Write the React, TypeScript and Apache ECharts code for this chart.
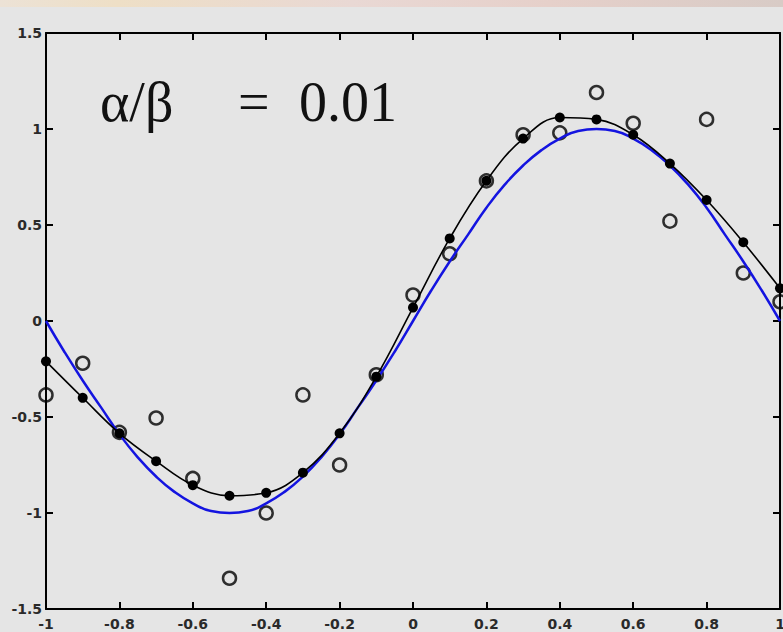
import React, { useEffect, useRef } from "react";
import * as echarts from "echarts";

// sample locations
const xValues = [-1, -0.9, -0.8, -0.7, -0.6, -0.5, -0.4, -0.3, -0.2, -0.1, 0, 0.1, 0.2, 0.3, 0.4, 0.5, 0.6, 0.7, 0.8, 0.9, 1];
// noisy observations (open circles)
const observed = [-0.385, -0.22, -0.58, -0.505, -0.82, -1.34, -1.0, -0.385, -0.75, -0.28, 0.135, 0.35, 0.73, 0.97, 0.98, 1.19, 1.03, 0.52, 1.05, 0.25, 0.1];
// fitted curve (filled dots)
const fitted = [-0.21, -0.4, -0.585, -0.73, -0.855, -0.91, -0.895, -0.79, -0.585, -0.29, 0.07, 0.43, 0.73, 0.95, 1.06, 1.05, 0.97, 0.82, 0.63, 0.41, 0.17];
// true underlying curve (blue), read at 0.05 steps
const trueX = [-1, -0.95, -0.9, -0.85, -0.8, -0.75, -0.7, -0.65, -0.6, -0.55, -0.5, -0.45, -0.4, -0.35, -0.3, -0.25, -0.2, -0.15, -0.1, -0.05, 0, 0.05, 0.1, 0.15, 0.2, 0.25, 0.3, 0.35, 0.4, 0.45, 0.5, 0.55, 0.6, 0.65, 0.7, 0.75, 0.8, 0.85, 0.9, 0.95, 1];
const trueY = [0, -0.16, -0.31, -0.45, -0.59, -0.71, -0.81, -0.89, -0.95, -0.99, -1, -0.99, -0.95, -0.89, -0.81, -0.71, -0.59, -0.45, -0.31, -0.16, 0, 0.16, 0.31, 0.45, 0.59, 0.71, 0.81, 0.89, 0.95, 0.99, 1, 0.99, 0.95, 0.89, 0.81, 0.71, 0.59, 0.45, 0.31, 0.16, 0];

const xTickLabels = ["-1", "-0.8", "-0.6", "-0.4", "-0.2", "0", "0.2", "0.4", "0.6", "0.8", "1"];
const yTickLabels = ["-1.5", "-1", "-0.5", "0", "0.5", "1", "1.5"];
const annotation = ["α/β", "=", "0.01"];

const BG = "#e5e5e5";

export default function App() {
  const ref = useRef<HTMLDivElement>(null);

  useEffect(() => {
    document.body.style.margin = "0";
    document.body.style.background = BG;
    if (!ref.current) return;
    const chart = echarts.init(ref.current, undefined, { renderer: "svg" });

    const xLabel = (v: number) => xTickLabels[Math.round((v + 1) / 0.2)] ?? "";
    const yLabel = (v: number) => yTickLabels[Math.round((v + 1.5) / 0.5)] ?? "";

    const labelStyle = {
      fontFamily: "DejaVu Sans",
      fontSize: 14,
      fontWeight: "bold" as const,
      color: "#2a2a2a",
    };
    const lineStyle = { color: "#000", width: 2 };
    const tick = { show: true, inside: true, length: 7, lineStyle: { color: "#000", width: 2 } };

    const xBase = {
      type: "value" as const,
      min: -1,
      max: 1,
      interval: 0.2,
      splitLine: { show: false },
      axisLine: { show: true, onZero: false, lineStyle },
      axisTick: tick,
    };
    const yBase = {
      type: "value" as const,
      min: -1.5,
      max: 1.5,
      interval: 0.5,
      splitLine: { show: false },
      axisLine: { show: true, onZero: false, lineStyle },
      axisTick: tick,
    };

    const serif = "56px 'Liberation Serif'";

    chart.setOption({
      animation: false,
      backgroundColor: BG,
      grid: { left: 46, right: 3, top: 33, bottom: 23, containLabel: false, outerBoundsMode: "none" },
      xAxis: [
        { ...xBase, position: "bottom", axisLabel: { ...labelStyle, margin: 8, formatter: xLabel } },
        { ...xBase, position: "top", axisLabel: { show: false } },
      ],
      yAxis: [
        { ...yBase, position: "left", axisLabel: { ...labelStyle, margin: 4, formatter: yLabel } },
        { ...yBase, position: "right", axisLabel: { show: false } },
      ],
      graphic: [
        {
          type: "rect",
          shape: { x: 0, y: 0, width: 783, height: 7 },
          style: {
            fill: new echarts.graphic.LinearGradient(0, 0, 1, 0, [
              { offset: 0, color: "#ece2d6" },
              { offset: 0.15, color: "#eedfc6" },
              { offset: 0.45, color: "#e9d8d4" },
              { offset: 0.7, color: "#e6d0ca" },
              { offset: 1, color: "#d8cbc6" },
            ]),
          },
          silent: true,
        },
        { type: "text", left: 100, top: 74, style: { text: annotation[0], font: serif, fill: "#111" } },
        { type: "text", left: 238, top: 74, style: { text: annotation[1], font: serif, fill: "#111" } },
        { type: "text", left: 299, top: 74, style: { text: annotation[2], font: serif, fill: "#111" } },
      ],
      series: [
        {
          name: "observed",
          type: "scatter",
          data: xValues.map((x, i) => [x, observed[i]]),
          symbol: "circle",
          symbolSize: 13,
          itemStyle: { color: "rgba(0,0,0,0)", borderColor: "#000", borderWidth: 2.5 },
          z: 2,
        },
        {
          name: "true",
          type: "line",
          data: trueX.map((x, i) => [x, trueY[i]]),
          smooth: true,
          showSymbol: false,
          symbol: "none",
          lineStyle: { color: "#1414e0", width: 2.5 },
          z: 3,
        },
        {
          name: "fitted",
          type: "line",
          data: xValues.map((x, i) => [x, fitted[i]]),
          smooth: 0.4,
          symbol: "circle",
          symbolSize: 10,
          showSymbol: true,
          itemStyle: { color: "#000" },
          lineStyle: { color: "#000", width: 1.6 },
          z: 4,
        },
      ],
    });

    return () => chart.dispose();
  }, []);

  return <div ref={ref} style={{ width: 783, height: 632, background: BG }} />;
}
